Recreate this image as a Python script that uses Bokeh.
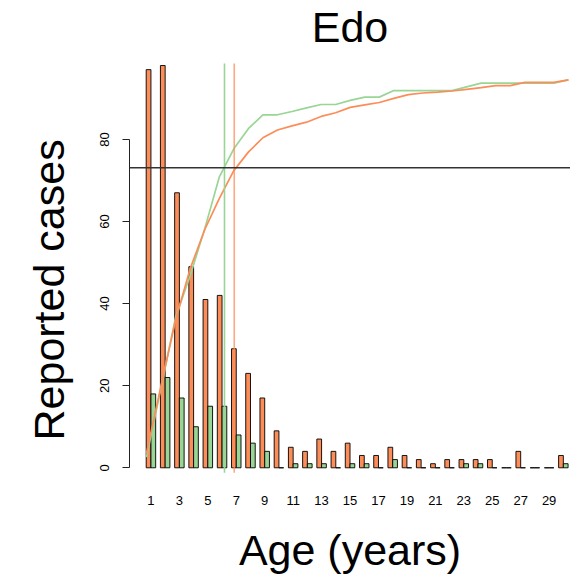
from bokeh.plotting import figure
from bokeh.models import Range1d, FixedTicker, Span, Title
from bokeh.embed import file_html
from bokeh.resources import INLINE

# ---- data ----
ages = list(range(1, 31))
cases_orange = [97, 98, 67, 49, 41, 42, 29, 23, 17, 9, 5, 4, 7, 4, 6, 3, 3, 5, 3, 2,
                1, 2, 2, 2, 2, 0, 4, 0, 0, 3]
cases_green = [18, 22, 17, 10, 15, 15, 8, 6, 4, 0, 1, 1, 1, 0, 1, 1, 0, 2, 0, 0,
               0, 0, 1, 1, 0, 0, 0, 0, 0, 1]
cum_orange = [3.5, 20.0, 36.0, 48.5, 58.0, 65.6, 72.4, 76.9, 80.4, 82.3, 83.3, 84.2,
              85.6, 86.5, 87.8, 88.4, 89.0, 90.0, 90.9, 91.3, 91.5, 91.8, 92.2, 92.6,
              93.1, 93.1, 93.9, 93.9, 93.9, 94.5]
cum_green = [2.6, 19.5, 36.7, 46.8, 58.2, 70.8, 77.7, 82.6, 86.0, 86.0, 86.8, 87.7,
             88.5, 88.5, 89.5, 90.3, 90.3, 91.9, 91.9, 91.9, 91.9, 91.9, 92.8, 93.7,
             93.7, 93.7, 93.7, 93.7, 93.7, 94.5]
tick_ages = list(range(1, 30, 2))
y_ticks = [0, 20, 40, 60, 80]
threshold = 73.1
age_mark_green = 6.36
age_mark_orange = 7.03

ORANGE = "#FC8D59"
GREEN = "#99D594"
FONT = "Liberation Sans"

# bar layout: groups of two bars (width 1) separated by a gap of 1
x_orange = [3 * (a - 1) + 1.5 for a in ages]
x_green = [3 * (a - 1) + 2.5 for a in ages]
x_centers = [3 * (a - 1) + 2 for a in tick_ages]

p = figure(width=570, height=580,
           x_range=Range1d(-2.523, 90.51), y_range=Range1d(-4.07, 101.66),
           output_backend="svg", toolbar_location=None,
           min_border_left=129, min_border_right=0,
           min_border_top=50, min_border_bottom=96)
p.extra_x_ranges = {"age": Range1d(-0.168, 30.14)}

p.xgrid.visible = False
p.ygrid.visible = False
p.outline_line_color = None
p.background_fill_color = "white"
p.border_fill_color = "white"

p.vbar(x=x_orange, top=cases_orange, bottom=0, width=1,
       fill_color=ORANGE, line_color="black", line_width=1, line_alpha=0.9)
p.vbar(x=x_green, top=cases_green, bottom=0, width=1,
       fill_color=GREEN, line_color="black", line_width=1, line_alpha=0.9)

p.line(x=ages, y=cum_green, x_range_name="age", line_color=GREEN, line_width=1.7)
p.line(x=ages, y=cum_orange, x_range_name="age", line_color=ORANGE, line_width=1.7)

p.add_layout(Span(location=threshold, dimension="width",
                  line_color="#333333", line_width=1.5))
p.segment(x0=[age_mark_green], x1=[age_mark_green], y0=[-1.2], y1=[98.5],
          x_range_name="age", line_color=GREEN, line_width=1.6)
p.segment(x0=[age_mark_orange], x1=[age_mark_orange], y0=[-1.2], y1=[98.5],
          x_range_name="age", line_color=ORANGE, line_width=1.6, line_alpha=0.75)

# title
p.title.text = "Edo"
p.title.align = "center"
p.title.text_font = FONT
p.title.text_font_size = "43px"
p.title.text_font_style = "normal"
p.title.text_color = "black"
p.title.standoff = 0

# y axis
ya = p.yaxis[0]
ya.ticker = FixedTicker(ticks=y_ticks)
ya.bounds = (0, 80)
ya.major_label_orientation = "vertical"
ya.minor_tick_line_color = None
ya.major_tick_out = 7
ya.major_tick_in = 0
ya.axis_line_color = "#222222"
ya.major_tick_line_color = "#222222"
ya.major_label_text_font = FONT
ya.major_label_text_font_size = "13px"
ya.major_label_text_color = "black"
ya.major_label_standoff = 13

ylab = Title(text="Reported cases", align="left", offset=44, vertical_align="top",
             text_font=FONT, text_font_size="43px", text_font_style="normal",
             text_color="black", standoff=46)
p.add_layout(ylab, "left")

# x axis
xa = p.xaxis[0]
xa.ticker = FixedTicker(ticks=x_centers)
xa.major_label_overrides = {c: str(a) for c, a in zip(x_centers, tick_ages)}
xa.axis_line_color = None
xa.major_tick_line_color = None
xa.minor_tick_line_color = None
xa.major_label_text_font = FONT
xa.major_label_text_font_size = "13px"
xa.major_label_text_color = "black"
xa.major_label_standoff = 5
xa.axis_label = "Age (years)"
xa.axis_label_text_font = FONT
xa.axis_label_text_font_size = "43px"
xa.axis_label_text_font_style = "normal"
xa.axis_label_text_color = "black"
xa.axis_label_standoff = 18

open("out.html", "w").write(file_html(p, INLINE))
